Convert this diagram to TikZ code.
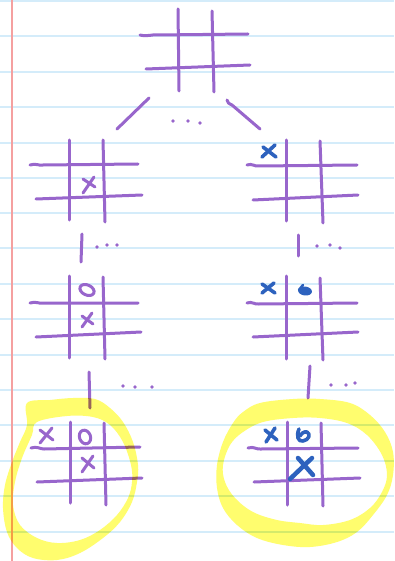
\documentclass[tikz,border=0pt]{standalone}
\usetikzlibrary{calc}
\definecolor{purp}{RGB}{152,102,204}
\definecolor{bmark}{RGB}{45,98,190}
\definecolor{nline}{RGB}{212,236,250}
\definecolor{margin}{RGB}{245,160,160}
\definecolor{hl}{RGB}{255,253,110}
\tikzset{
  gline/.style={draw=purp, line width=3pt, line cap=round, line join=round},
  pmark/.style={draw=purp, line width=3pt, line cap=round, line join=round},
  bluemark/.style={draw=bmark, line width=3.6pt, line cap=round, line join=round},
  pdot/.style={fill=purp},
  paperline/.style={draw=nline, line width=1.2pt},
  hilite/.style={fill=hl, even odd rule, blend mode=multiply},
}
\begin{document}
\begin{tikzpicture}[x=1pt,y=-1pt]
\useasboundingbox (0,0) rectangle (394,561);
\fill[white] (0,0) rectangle (394,561);
% paper lines
\foreach \yy in {1,36,72,107,143,178,213,248,284,319,355,390,425,461,496,532}
  \draw[paperline] (0,\yy) -- (394,\yy);
\draw[draw=margin, line width=2pt] (12,0) -- (12,561);

% top grid
\draw[gline] (140,35) .. controls (148,37) and (152,34) .. (158,35) -- (248,34);
\draw[gline] (146,69) -- (250,65);
\draw[gline] (178,9) -- (179,91);
\draw[gline] (212,11) -- (214,92);
% branches
\draw[gline] (149,98) -- (117,129);
\draw[gline] (227,100) .. controls (228,103) .. (232,105) -- (260,129);
\foreach \p in {(173,121),(188,121),(200,123)} \fill[pdot] \p circle (1.8);

% ---- grid 2 left
\draw[gline] (30,165) .. controls (36,163) and (39,166) .. (43,165) -- (138,164);
\draw[gline] (36,199) -- (142,195);
\draw[gline] (69,140) -- (69,220);
\draw[gline] (103,140) -- (105,222);
\draw[pmark] (83,179) -- (95,187);
\draw[pmark] (94,177) -- (83,193);
% ---- grid 2 right
\draw[gline] (247,165) .. controls (252,163) and (255,167) .. (259,166) -- (357,165);
\draw[gline] (253,200) -- (358,195);
\draw[gline] (286,140) -- (286,221);
\draw[gline] (320,141) -- (323,223);
\draw[bluemark] (262,157) -- (275,145);
\draw[bluemark] (263,147) -- (276,157);

% connectors 2->3
\draw[gline] (82,234) -- (81,262);
\foreach \p in {(97,247),(107,245),(117,245)} \fill[pdot] \p circle (1.8);
\draw[gline] (298,235) -- (298,256);
\foreach \p in {(317,246),(330,245),(340,248)} \fill[pdot] \p circle (1.8);

% ---- grid 3 left
\draw[gline] (30,303) .. controls (36,301) and (39,304) .. (43,303) -- (138,303);
\draw[gline] (36,337) -- (141,332);
\draw[gline] (69,276) -- (69,358);
\draw[gline] (103,277) -- (105,359);
\draw[pmark, rotate around={-25:(87,290)}] (87,290) ellipse (7.5 and 5);
\draw[pmark] (82,316) -- (93,324);
\draw[pmark] (92,313) -- (82,327);
% ---- grid 3 right
\draw[gline] (247,303) .. controls (252,301) and (255,305) .. (259,304) -- (357,303);
\draw[gline] (253,337) -- (358,332);
\draw[gline] (286,276) -- (286,359);
\draw[gline] (320,278) -- (323,360);
\draw[bluemark] (262,293) -- (274,283);
\draw[bluemark] (262,284) -- (275,293);
\fill[bmark, rotate around={-8:(305,291)}] (305,291) ellipse (7 and 4.5);
\draw[bluemark, line width=2.6pt] (299,290) -- (303,285);

% connectors 3->4
\draw[gline] (89,372) -- (90,408);
\foreach \p in {(123,386),(135,387),(152,387)} \fill[pdot] \p circle (1.8);
\draw[gline] (310,366) -- (308,398);
\foreach \p in {(331,385),(346,385),(355,383)} \fill[pdot] \p circle (1.8);

% ---- grid 4 left
\draw[gline] (31,448) .. controls (37,446) and (40,449) .. (44,449) -- (140,447);
\draw[gline] (37,482) -- (142,478);
\draw[gline] (70,422) -- (70,503);
\draw[gline] (104,423) -- (106,505);
\draw[pmark] (40,430) -- (53,440);
\draw[pmark] (52,428) -- (40,443);
\draw[pmark, rotate around={20:(85,437)}] (85,437) ellipse (5.5 and 7);
\draw[pmark] (82,458) -- (94,468);
\draw[pmark] (93,456) -- (82,472);
% ---- grid 4 right
\draw[gline] (248,448) .. controls (254,446) and (257,450) .. (261,449) -- (358,448);
\draw[gline] (254,482) -- (360,478);
\draw[gline] (287,422) -- (287,505);
\draw[gline] (321,423) -- (323,506);
\draw[bluemark] (265,430) -- (277,440);
\draw[bluemark] (275,428) -- (266,442);
\draw[bluemark] (299,429) .. controls (296,436) and (298,442) .. (303,441)
   .. controls (309,440) and (311,434) .. (307,432) .. controls (304,431) and (301,434) .. (300,436);
\draw[bluemark, line width=4.5pt] (298,458) -- (313,475);
\draw[bluemark, line width=4.5pt] (312,458) -- (290,479);

% ---- highlights
\fill[hilite]
  plot[smooth cycle, tension=0.6] coordinates {(27,403) (50,400) (73,398) (95,399) (110,408) (123,422) (133,442) (138,465) (137,482) (132,502) (120,522) (103,538) (80,553) (57,560) (33,558) (17,548) (7,532) (3,508) (5,485) (12,462) (20,442) (27,425)}
  plot[smooth cycle, tension=0.6] coordinates {(37,422) (67,416) (93,417) (110,425) (123,442) (131,465) (132,482) (128,498) (117,515) (100,530) (80,540) (57,543) (37,538) (20,525) (13,505) (15,482) (22,458) (32,435)};
\fill[hilite]
  plot[smooth cycle, tension=0.6] coordinates {(243,412) (260,403) (293,399) (320,399) (350,403) (370,415) (385,432) (393,452) (393,475) (387,495) (373,515) (357,532) (337,542) (310,547) (283,545) (257,538) (237,525) (223,508) (217,488) (217,465) (223,442) (233,423)}
  plot[smooth cycle, tension=0.6] coordinates {(230,445) (243,432) (263,422) (293,418) (320,418) (347,423) (367,435) (382,455) (387,475) (382,492) (370,508) (350,520) (323,525) (300,523) (277,520) (253,512) (235,498) (225,482) (223,465)};
\end{tikzpicture}
\end{document}
